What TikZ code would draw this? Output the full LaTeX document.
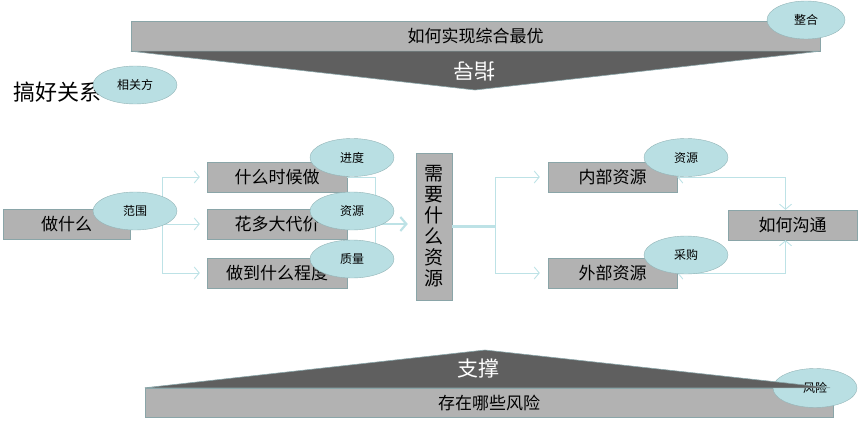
\documentclass[tikz,border=0pt]{standalone}
\usepackage{fontspec}
\setmainfont{Noto Sans CJK SC}
\usepackage{xcolor}
\usetikzlibrary{shapes,arrows.meta,positioning,calc}

\definecolor{boxgray}{HTML}{B2B2B2}
\definecolor{boxline}{HTML}{8AA5A8}
\definecolor{darkwedge}{HTML}{5F5F5F}
\definecolor{ovalfill}{HTML}{B9DFE3}
\definecolor{ovalline}{HTML}{93B4B7}
\definecolor{linkcyan}{HTML}{BDE2E6}

\begin{document}
\begin{tikzpicture}[x=1pt,y=-1pt,
    box/.style={draw=boxline, fill=boxgray, inner sep=0pt, minimum height=30pt, font=\fontsize{17}{17}\selectfont},
    oval/.style={ellipse, draw=ovalline, fill=ovalfill, minimum width=84pt, minimum height=38pt, inner sep=0pt, font=\fontsize{12}{12}\selectfont},
    wedge/.style={fill=darkwedge, draw=boxline, line width=0.6pt},
    tip/.style={-{Straight Barb[length=5pt,width=12pt]}},
    link/.style={draw=linkcyan, line width=0.9pt},
    fat/.style={draw=linkcyan, line width=2.2pt}]
    \useasboundingbox (0,0) rectangle (858,420);

    % top: guidance
    \node[box, minimum width=689pt] (best) at (475.5,36) {如何实现综合最优};
    \coordinate (guidetip) at (475,90);
    \draw[wedge] (best.south west) -- (best.south east) -- (guidetip) -- cycle;
    \node[white, rotate=180, font=\fontsize{21}{21}\selectfont] (guide) at (474,71) {指导};
    \node[oval, minimum width=78pt] (merge) at (806,20) {整合};

    % relations
    \node[font=\fontsize{22}{22}\selectfont] (ties) at (57,92) {搞好关系};
    \node[oval] (stake) at (135,85) {相关方};

    % boxes
    \node[box, minimum width=127pt] (what) at (66.5,224) {做什么};
    \node[box, minimum width=140pt] (when) at (277,177) {什么时候做};
    \node[box, minimum width=140pt] (cost) at (277,224) {花多大代价};
    \node[box, minimum width=140pt] (depth) at (277,273) {做到什么程度};
    \node[box, minimum width=36pt, minimum height=147pt, align=center,
          font=\fontsize{19}{21}\selectfont] (need) at (434,226.5) {需\\要\\什\\么\\资\\源};
    \node[box, minimum width=129pt] (inner) at (612.5,177) {内部资源};
    \node[box, minimum width=129pt] (outer) at (612.5,273) {外部资源};
    \node[box, minimum width=129pt] (talk) at (792.5,225) {如何沟通};

    % connectors
    \coordinate (split1) at (162,224);
    \coordinate (join1) at (375,224);
    \coordinate (split2) at (495,226.5);
    \draw[link, tip, shorten >=7pt] (split1) |- (when.west);
    \draw[link, tip, shorten >=7pt] (what.east) -- (cost.west);
    \draw[link, tip, shorten >=7pt] (split1) |- (depth.west);
    \draw[link] (when.east) -| (join1);
    \draw[link] (depth.east) -| (join1);
    \draw[link] (cost.east) -- (join1);
    \draw[fat, -{Straight Barb[length=6pt,width=14pt]}, shorten >=8pt] (join1) -- (need.west |- join1);
    \draw[fat] (need.east) -- (split2);
    \draw[link, tip, shorten >=8pt] (split2) |- (inner.west);
    \draw[link, tip, shorten >=8pt] (split2) |- (outer.west);
    \draw[link, {Straight Barb[length=5pt,width=12pt]}-{Straight Barb[length=5pt,width=12pt]}] (inner.east) -| ([xshift=-7pt]talk.north);
    \draw[link, {Straight Barb[length=5pt,width=12pt]}-{Straight Barb[length=5pt,width=12pt]}] (outer.east) -| ([xshift=-7pt]talk.south);

    % notes
    \node[oval] (scope) at (135,211) {范围};
    \node[oval] (sched) at (352,157.5) {进度};
    \node[oval] (res1) at (352,211) {资源};
    \node[oval] (qual) at (352,259) {质量};
    \node[oval] (res2) at (686,157.5) {资源};
    \node[oval] (buy) at (686,255) {采购};

    % bottom: support
    \node[box, minimum width=688pt, minimum height=29pt] (risk) at (489,402.5) {存在哪些风险};
    \node[oval, minimum height=39pt] (riskoval) at (815,388) {风险};
    \coordinate (proptip) at (485,350);
    \draw[wedge] (risk.north west) -- (proptip) -- ($(risk.north east)+(-3,0)$) -- cycle;
    \node[white, font=\fontsize{21}{21}\selectfont] (prop) at (478,369) {支撑};
\end{tikzpicture}
\end{document}
